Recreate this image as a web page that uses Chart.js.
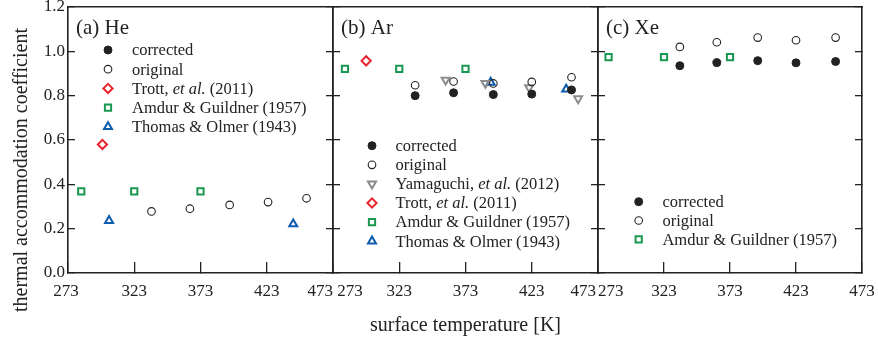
<!DOCTYPE html>
<html>
<head>
<meta charset="utf-8">
<script src="https://cdn.jsdelivr.net/npm/chart.js@4.4.1/dist/chart.umd.min.js"></script>
<style>
  html, body { margin: 0; padding: 0; background: #fff; }
  #wrap { position: relative; width: 878px; height: 340px; overflow: hidden; }
  canvas { position: absolute; left: 0; top: 0; }
  #ytitle {
    position: absolute; left: -149px; top: 158px; width: 340px; height: 24px;
    line-height: 24px; text-align: center; transform: rotate(-90deg);
    font: 20px "Liberation Serif", "Times New Roman", serif; color: #222;
    white-space: nowrap;
  }
</style>
</head>
<body>
<div id="wrap">
  <canvas id="pa" width="878" height="340"></canvas>
  <canvas id="pb" width="878" height="340"></canvas>
  <canvas id="pc" width="878" height="340"></canvas>
  <div id="ytitle">thermal accommodation coefficient</div>
</div>
<script>
// ---------- data ----------
const xTicks = [273, 323, 373, 423, 473];
const yTicks = [0.0, 0.2, 0.4, 0.6, 0.8, 1.0, 1.2];

// (a) He
const heCorrT = [];
const heCorrV = [];
const heOrigT = [336, 365, 395, 424, 453];
const heOrigV = [0.278, 0.290, 0.307, 0.320, 0.337];
const heTrottT = [299];
const heTrottV = [0.580];
const heAmdurT = [283, 323, 373];
const heAmdurV = [0.368, 0.368, 0.368];
const heThomasT = [304, 443];
const heThomasV = [0.236, 0.221];

// (b) Ar
const arCorrT = [335, 364, 394, 423, 453];
const arCorrV = [0.800, 0.813, 0.805, 0.807, 0.826];
const arOrigT = [335, 364, 394, 423, 453];
const arOrigV = [0.847, 0.864, 0.855, 0.862, 0.883];
const arYamaT = [358, 388, 421, 458];
const arYamaV = [0.871, 0.856, 0.837, 0.787];
const arTrottT = [298];
const arTrottV = [0.957];
const arAmdurT = [282, 323, 373];
const arAmdurV = [0.921, 0.921, 0.921];
const arThomasT = [392, 449];
const arThomasV = [0.860, 0.829];

// (c) Xe
const xeCorrT = [335, 363, 394, 423, 453];
const xeCorrV = [0.935, 0.949, 0.958, 0.948, 0.954];
const xeOrigT = [335, 363, 394, 423, 453];
const xeOrigV = [1.020, 1.041, 1.062, 1.050, 1.062];
const xeAmdurT = [281, 323, 373];
const xeAmdurV = [0.974, 0.974, 0.974];

// ---------- styles ----------
const FONT = '"Liberation Serif", "Times New Roman", serif';
const INK = '#222';
const RED = '#e8232b', GREEN = '#1a9850', BLUE = '#0b5cad', GRAY = '#8c8c8c';

const pts = (xs, ys) => xs.map((x, i) => ({ x: x, y: ys[i] }));

const styles = {
  corrected: { pointStyle: 'circle', radius: 4, bw: 1, fill: INK, stroke: INK, rot: 0 },
  original:  { pointStyle: 'circle', radius: 3.8, bw: 1.1, fill: 'rgba(0,0,0,0)', stroke: INK, rot: 0 },
  yama:      { pointStyle: 'triangle', radius: 4.6, bw: 2, fill: 'rgba(0,0,0,0)', stroke: GRAY, rot: 180 },
  trott:     { pointStyle: 'rectRot', radius: 4.6, bw: 2, fill: 'rgba(0,0,0,0)', stroke: RED, rot: 0 },
  amdur:     { pointStyle: 'rect', radius: 4.4, bw: 2, fill: 'rgba(0,0,0,0)', stroke: GREEN, rot: 0 },
  thomas:    { pointStyle: 'triangle', radius: 4.6, bw: 2, fill: 'rgba(0,0,0,0)', stroke: BLUE, rot: 0 }
};

function ds(label, key, xs, ys) {
  const s = styles[key];
  return {
    label: label,
    data: pts(xs, ys),
    showLine: false,
    pointStyle: s.pointStyle,
    pointRadius: s.radius,
    pointHoverRadius: s.radius,
    pointRotation: s.rot,
    pointBorderWidth: s.bw,
    pointBackgroundColor: s.fill,
    pointBorderColor: s.stroke,
    backgroundColor: s.fill,
    borderColor: s.stroke
  };
}

// draw label with "et al." in italics
function drawLabel(ctx, text, x, y, size) {
  const parts = text.split('et al.');
  let cx = x;
  parts.forEach((p, i) => {
    ctx.font = size + 'px ' + FONT;
    ctx.fillText(p, cx, y);
    cx += ctx.measureText(p).width;
    if (i < parts.length - 1) {
      ctx.font = 'italic ' + size + 'px ' + FONT;
      ctx.fillText('et al.', cx, y);
      cx += ctx.measureText('et al.').width;
    }
  });
}

const insetPlugin = {
  id: 'inset',
  afterDatasetsDraw(chart, args, opts) {
    const { ctx, chartArea } = chart;
    ctx.save();
    ctx.fillStyle = INK;
    ctx.textBaseline = 'middle';
    ctx.textAlign = 'left';
    ctx.font = '21px ' + FONT;
    ctx.fillText(opts.title, chartArea.left + 8, chartArea.top + 21);
    chart.data.datasets.forEach((d, i) => {
      const y = chartArea.top + opts.legendDy + i * opts.rowGap;
      const x = chartArea.left + opts.symDx;
      ctx.save();
      ctx.fillStyle = d.pointBackgroundColor;
      ctx.strokeStyle = d.pointBorderColor;
      ctx.lineWidth = d.pointBorderWidth;
      Chart.helpers.drawPoint(ctx, {
        pointStyle: d.pointStyle, radius: d.pointRadius,
        rotation: d.pointRotation, borderWidth: d.pointBorderWidth
      }, x, y);
      ctx.restore();
      ctx.fillStyle = INK;
      drawLabel(ctx, d.label, chartArea.left + opts.textDx, y + 1, 16.5);
    });
    ctx.restore();
  }
};

function spaces(n) { return ' '.repeat(n); }

function noPad(s) { s.paddingTop = 0; s.paddingBottom = 0; s.paddingLeft = 0; s.paddingRight = 0; }

function makePanel(id, p) {
  const setX = s => { s.ticks = xTicks.map(v => ({ value: v })); };
  const setY = s => { s.ticks = yTicks.map(v => ({ value: v })); };
  const axisGrid = len => ({ drawOnChartArea: false, drawTicks: true, tickLength: len, color: INK, lineWidth: 1.3 });
  const border = { display: true, color: INK, width: 1.6 };
  new Chart(document.getElementById(id), {
    type: 'scatter',
    data: { datasets: p.datasets },
    options: {
      responsive: false,
      animation: false,
      devicePixelRatio: 1,
      layout: { padding: { left: p.padLeft, right: p.padRight, top: 7, bottom: 0 } },
      plugins: {
        legend: { display: false },
        tooltip: { enabled: false },
        inset: p.inset
      },
      scales: {
        x: {
          type: 'linear', position: 'bottom', min: 273, max: 473,
          afterBuildTicks: setX,
          afterFit: s => { s.height = 67; noPad(s); },
          grid: axisGrid(-11),
          border: border,
          ticks: {
            autoSkip: false, maxRotation: 0, minRotation: 0, padding: 19,
            color: INK, font: { family: FONT, size: 17 },
            callback: (v, i) => {
              const sh = p.labelShift[i] || 0;
              const t = String(xTicks[i]);
              return sh > 0 ? spaces(sh) + t : t + spaces(-sh);
            }
          },
          title: p.xTitle ? {
            display: true, text: p.xTitle, color: INK,
            font: { family: FONT, size: 20 }, padding: { top: 0, bottom: 2 }
          } : { display: false }
        },
        xt: {
          type: 'linear', position: 'top', min: 273, max: 473,
          afterFit: s => { s.height = 0; noPad(s); },
          grid: { drawOnChartArea: false, drawTicks: false },
          border: border,
          ticks: { display: false }
        },
        y: {
          type: 'linear', position: 'left', min: 0, max: 1.2,
          afterBuildTicks: setY,
          afterFit: s => { s.width = p.yWidth; noPad(s); },
          grid: axisGrid(-7),
          border: border,
          ticks: {
            display: p.showY, padding: 10, color: INK,
            font: { family: FONT, size: 17 },
            callback: v => Number(v).toFixed(1)
          }
        },
        y2: {
          type: 'linear', position: 'right', min: 0, max: 1.2,
          afterBuildTicks: setY,
          afterFit: s => { s.width = 0; noPad(s); },
          grid: axisGrid(-7),
          border: border,
          ticks: { display: false }
        }
      }
    },
    plugins: [insetPlugin]
  });
}

makePanel('pa', {
  padLeft: 0, padRight: 878 - 333, yWidth: 68, showY: true,
  labelShift: [-1, 0, 0, 0, -6],
  inset: { title: '(a) He', legendDy: 43, rowGap: 19.2, symDx: 40, textDx: 64 },
  datasets: [
    ds('corrected', 'corrected', heCorrT, heCorrV),
    ds('original', 'original', heOrigT, heOrigV),
    ds('Trott, et al. (2011)', 'trott', heTrottT, heTrottV),
    ds('Amdur & Guildner (1957)', 'amdur', heAmdurT, heAmdurV),
    ds('Thomas & Olmer (1943)', 'thomas', heThomasT, heThomasV)
  ]
});

makePanel('pb', {
  padLeft: 333, padRight: 878 - 598, yWidth: 0, showY: false,
  labelShift: [8, 0, 0, 0, -7],
  xTitle: 'surface temperature [K]',
  inset: { title: '(b) Ar', legendDy: 138.7, rowGap: 19.1, symDx: 39, textDx: 62.5 },
  datasets: [
    ds('corrected', 'corrected', arCorrT, arCorrV),
    ds('original', 'original', arOrigT, arOrigV),
    ds('Yamaguchi, et al. (2012)', 'yama', arYamaT, arYamaV),
    ds('Trott, et al. (2011)', 'trott', arTrottT, arTrottV),
    ds('Amdur & Guildner (1957)', 'amdur', arAmdurT, arAmdurV),
    ds('Thomas & Olmer (1943)', 'thomas', arThomasT, arThomasV)
  ]
});

makePanel('pc', {
  padLeft: 598, padRight: 878 - 862, yWidth: 0, showY: false,
  labelShift: [6, 0, 0, 0, 0],
  inset: { title: '(c) Xe', legendDy: 194.7, rowGap: 18.8, symDx: 40.7, textDx: 64.4 },
  datasets: [
    ds('corrected', 'corrected', xeCorrT, xeCorrV),
    ds('original', 'original', xeOrigT, xeOrigV),
    ds('Amdur & Guildner (1957)', 'amdur', xeAmdurT, xeAmdurV)
  ]
});
</script>
</body>
</html>
